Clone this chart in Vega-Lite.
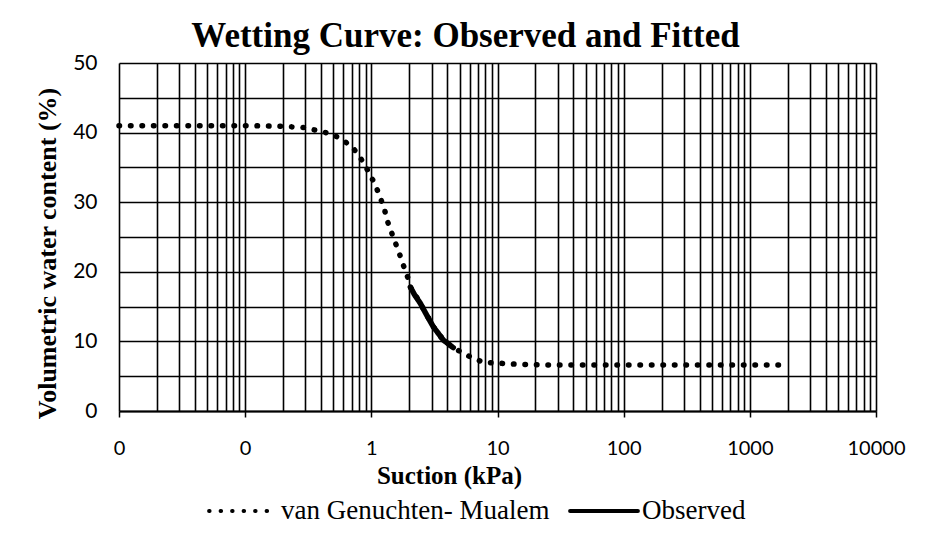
{
  "$schema": "https://vega.github.io/schema/vega-lite/v6.json",
  "autosize": {"type": "none"},
  "width": 757,
  "height": 348,
  "padding": {"left": 119, "top": 63, "right": 66, "bottom": 122},
  "background": "white",
  "title": {
    "text": "Wetting Curve: Observed and Fitted",
    "font": "Liberation Serif",
    "fontSize": 35,
    "fontWeight": "bold",
    "color": "black",
    "anchor": "middle",
    "dx": -32,
    "offset": -2
  },
  "data": {
    "values": [
      {"series": "van Genuchten- Mualem", "suction": 0.01, "theta": 41.0},
      {"series": "van Genuchten- Mualem", "suction": 0.02, "theta": 41.0},
      {"series": "van Genuchten- Mualem", "suction": 0.05, "theta": 41.0},
      {"series": "van Genuchten- Mualem", "suction": 0.1, "theta": 41.0},
      {"series": "van Genuchten- Mualem", "suction": 0.2, "theta": 40.9},
      {"series": "van Genuchten- Mualem", "suction": 0.3, "theta": 40.7},
      {"series": "van Genuchten- Mualem", "suction": 0.35, "theta": 40.4},
      {"series": "van Genuchten- Mualem", "suction": 0.42, "theta": 40.1},
      {"series": "van Genuchten- Mualem", "suction": 0.52, "theta": 39.5},
      {"series": "van Genuchten- Mualem", "suction": 0.61, "theta": 38.8},
      {"series": "van Genuchten- Mualem", "suction": 0.73, "theta": 37.6},
      {"series": "van Genuchten- Mualem", "suction": 0.86, "theta": 35.8},
      {"series": "van Genuchten- Mualem", "suction": 0.98, "theta": 33.9},
      {"series": "van Genuchten- Mualem", "suction": 1.06, "theta": 32.7},
      {"series": "van Genuchten- Mualem", "suction": 1.16, "theta": 31.0},
      {"series": "van Genuchten- Mualem", "suction": 1.27, "theta": 29.0},
      {"series": "van Genuchten- Mualem", "suction": 1.34, "theta": 27.3},
      {"series": "van Genuchten- Mualem", "suction": 1.49, "theta": 25.0},
      {"series": "van Genuchten- Mualem", "suction": 1.64, "theta": 23.0},
      {"series": "van Genuchten- Mualem", "suction": 1.79, "theta": 21.0},
      {"series": "van Genuchten- Mualem", "suction": 1.96, "theta": 19.0},
      {"series": "van Genuchten- Mualem", "suction": 2.04, "theta": 17.8},
      {"series": "van Genuchten- Mualem", "suction": 2.44, "theta": 15.5},
      {"series": "van Genuchten- Mualem", "suction": 3.1, "theta": 12.1},
      {"series": "van Genuchten- Mualem", "suction": 3.72, "theta": 10.2},
      {"series": "van Genuchten- Mualem", "suction": 4.46, "theta": 9.1},
      {"series": "van Genuchten- Mualem", "suction": 5.45, "theta": 8.2},
      {"series": "van Genuchten- Mualem", "suction": 6.4, "theta": 7.6},
      {"series": "van Genuchten- Mualem", "suction": 7.7, "theta": 7.0},
      {"series": "van Genuchten- Mualem", "suction": 9.6, "theta": 6.9},
      {"series": "van Genuchten- Mualem", "suction": 15, "theta": 6.7},
      {"series": "van Genuchten- Mualem", "suction": 30, "theta": 6.6},
      {"series": "van Genuchten- Mualem", "suction": 100, "theta": 6.6},
      {"series": "van Genuchten- Mualem", "suction": 500, "theta": 6.6},
      {"series": "van Genuchten- Mualem", "suction": 1900, "theta": 6.6},
      {"series": "Observed", "suction": 2.04, "theta": 17.8},
      {"series": "Observed", "suction": 2.2, "theta": 16.7},
      {"series": "Observed", "suction": 2.44, "theta": 15.5},
      {"series": "Observed", "suction": 2.8, "theta": 13.5},
      {"series": "Observed", "suction": 3.1, "theta": 12.1},
      {"series": "Observed", "suction": 3.72, "theta": 10.2},
      {"series": "Observed", "suction": 4.46, "theta": 9.1}
    ]
  },
  "mark": {"type": "line", "color": "black", "strokeWidth": 5.5, "strokeCap": "round", "strokeJoin": "round"},
  "encoding": {
    "x": {
      "field": "suction",
      "type": "quantitative",
      "scale": {"type": "log", "domain": [0.01, 10000], "nice": false},
      "axis": {
        "title": "Suction (kPa)",
        "titleFont": "Liberation Serif",
        "titleFontSize": 25,
        "titleFontWeight": "bold",
        "titleColor": "black",
        "titleX": 330,
        "titleY": 72,
        "titleBaseline": "alphabetic",
        "values": [0.01,0.02,0.03,0.04,0.05,0.06,0.07,0.08,0.09,0.1,0.2,0.3,0.4,0.5,0.6,0.7,0.8,0.9,1,2,3,4,5,6,7,8,9,10,20,30,40,50,60,70,80,90,100,200,300,400,500,600,700,800,900,1000,2000,3000,4000,5000,6000,7000,8000,9000,10000],
        "labelExpr": "abs(log(datum.value)/LN10 - round(log(datum.value)/LN10)) < 0.000001 ? (datum.value < 1 ? '0' : format(datum.value, 'd')) : ''",
        "labelOverlap": false,
        "labelBound": false,
        "labelFlush": false,
        "labelFont": "Lato",
        "labelFontSize": 20,
        "labelColor": "black",
        "labelPadding": 21,
        "tickColor": "black",
        "tickSize": 6,
        "tickWidth": 1.5,
        "tickOpacity": {"condition": {"test": "abs(log(datum.value)/LN10 - round(log(datum.value)/LN10)) < 0.000001", "value": 1}, "value": 0},
        "domainColor": "black",
        "domainWidth": 2,
        "grid": true,
        "gridColor": "black",
        "gridWidth": 1.6,
        "gridOpacity": 1
      }
    },
    "y": {
      "field": "theta",
      "type": "quantitative",
      "scale": {"domain": [0, 50], "nice": false},
      "axis": {
        "title": "Volumetric water content (%)",
        "titleFont": "Liberation Serif",
        "titleFontSize": 26,
        "titleFontWeight": "bold",
        "titleColor": "black",
        "titlePadding": 12,
        "titleY": 190,
        "values": [0,5,10,15,20,25,30,35,40,45,50],
        "labelExpr": "datum.value % 10 == 0 ? datum.label : ''",
        "labelFont": "Lato",
        "labelFontSize": 21,
        "labelColor": "black",
        "labelPadding": 22,
        "ticks": false,
        "domain": false,
        "grid": true,
        "gridColor": "black",
        "gridWidth": 1.6,
        "gridOpacity": 1
      }
    },
    "strokeDash": {
      "field": "series",
      "type": "nominal",
      "scale": {"domain": ["van Genuchten- Mualem", "Observed"], "range": [[0.5, 11], [1, 0]]},
      "legend": {
        "title": null,
        "orient": "none",
        "direction": "horizontal",
        "legendX": 88,
        "legendY": 412,
        "symbolType": "stroke",
        "symbolSize": 4600,
        "symbolStrokeWidth": 4,
        "symbolStrokeColor": "black",
        "labelFont": "Liberation Serif",
        "labelFontSize": 27,
        "labelColor": "black",
        "labelLimit": 0,
        "columnPadding": 12,
        "labelOffset": 2,
        "encode": {"symbols": {"update": {"strokeCap": {"value": "round"}, "strokeDash": {"signal": "datum.value === 'Observed' ? [1, 0] : [0.5, 10]"}}}}
      }
    }
  },
  "config": {"view": {"stroke": null}}
}
